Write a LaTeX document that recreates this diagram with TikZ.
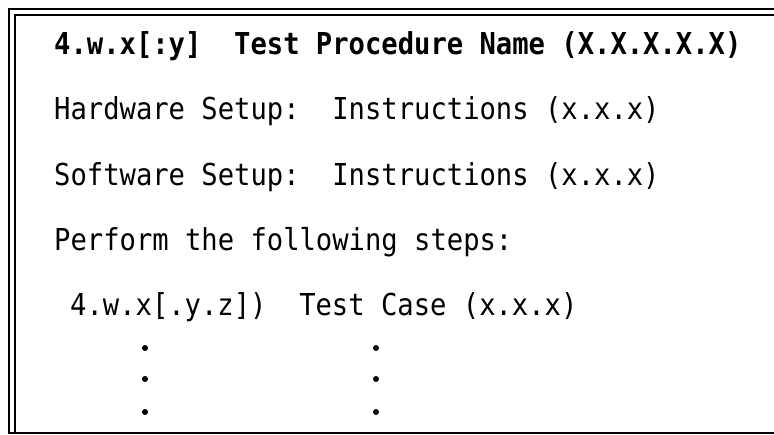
\documentclass[tikz,border=0pt]{standalone}
\usepackage{fontspec}
\setmonofont[FakeStretch=0.9]{DejaVu Sans Mono}
\tikzset{
	textline/.style={anchor=base west, inner sep=0pt, font=\fontsize{30.2}{36}\selectfont\ttfamily},
	titleline/.style={textline, font=\fontsize{30.2}{36}\selectfont\ttfamily\bfseries},
	listdot/.style={circle, fill, inner sep=0pt, minimum size=6pt},
}
\begin{document}
\begin{tikzpicture}[x=1pt, y=-1pt]
	\useasboundingbox (0,0) rectangle (774,435);
	% frame
	\draw [line width=1.2pt] (9, 433) -- (9, 9) -- (774, 9);
	\draw [line width=1.8pt] (15, 433) -- (15, 15) -- (774, 15);
	\draw [line width=2.2pt] (8, 433) -- (774, 433);
	% lines of text
	\node [titleline] (title) at (54, 55) {4.w.x[:y]\ \ Test Procedure Name (X.X.X.X.X)};
	\node [textline] (hwsetup) at (54, 120) {Hardware Setup:\ \ Instructions (x.x.x)};
	\node [textline] (swsetup) at (54, 186) {Software Setup:\ \ Instructions (x.x.x)};
	\node [textline] (perform) at (54, 251) {Perform the following steps:};
	\node [textline] (testcase) at (70, 316) {4.w.x[.y.z])\ \ Test Case (x.x.x)};
	% dots
	\node [listdot] (numdota) at (145, 348) {};
	\node [listdot] (numdotb) at (145, 379) {};
	\node [listdot] (numdotc) at (145, 412) {};
	\node [listdot] (casedota) at (376, 348) {};
	\node [listdot] (casedotb) at (376, 379) {};
	\node [listdot] (casedotc) at (376, 412) {};
\end{tikzpicture}
\end{document}
